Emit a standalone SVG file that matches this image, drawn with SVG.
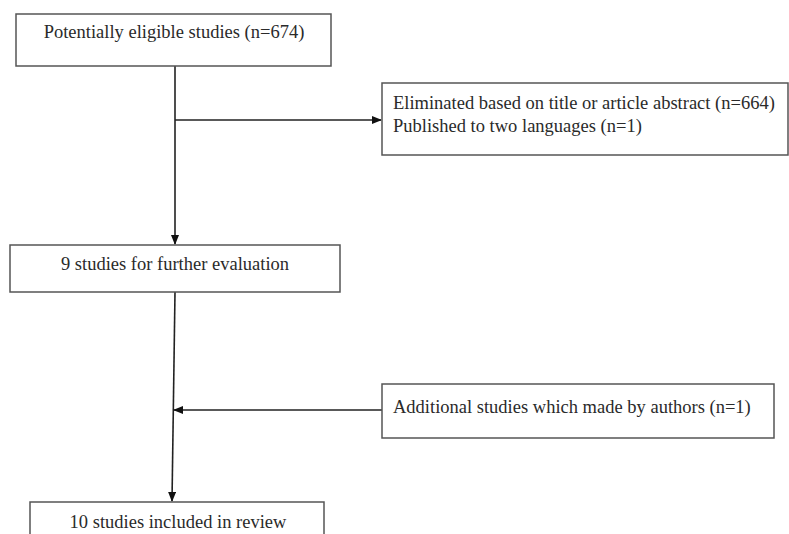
<svg xmlns="http://www.w3.org/2000/svg" width="789" height="534" viewBox="0 0 789 534">
<style>
.box{fill:#fff;stroke:#555;stroke-width:1.5}
.t{font-family:"Liberation Serif","Times New Roman",serif;font-size:18.5px;fill:#2a2a2a}
.c{text-anchor:middle}
.ln{stroke:#222;stroke-width:1.6;fill:none}
</style>
<defs>
<marker id="ah" markerWidth="10" markerHeight="8" refX="9" refY="4" orient="auto" markerUnits="userSpaceOnUse">
<path d="M0,0 L10,4 L0,8 z" fill="#111"/>
</marker>
</defs>
<rect width="789" height="534" fill="#fff"/>
<g id="connectors">
<line class="ln" x1="175" y1="66" x2="175" y2="244" marker-end="url(#ah)"/>
<line class="ln" x1="175" y1="120" x2="381" y2="120" marker-end="url(#ah)"/>
<line class="ln" x1="175" y1="292" x2="172" y2="501" marker-end="url(#ah)"/>
<line class="ln" x1="382" y1="410" x2="174" y2="410" marker-end="url(#ah)"/>
</g>
<g id="n1">
<rect class="box" x="16" y="14" width="315" height="52"/>
<text class="t c" x="174" y="38">Potentially eligible studies (n=674)</text>
</g>
<g id="n2">
<rect class="box" x="382" y="83" width="406" height="72"/>
<text class="t" x="393" y="109">Eliminated based on title or article abstract (n=664)</text>
<text class="t" x="393" y="132">Published to two languages (n=1)</text>
</g>
<g id="n3">
<rect class="box" x="10" y="245" width="330" height="47"/>
<text class="t c" x="175" y="270">9 studies for further evaluation</text>
</g>
<g id="n4">
<rect class="box" x="382" y="384" width="392" height="54"/>
<text class="t" x="393" y="413">Additional studies which made by authors (n=1)</text>
</g>
<g id="n5">
<rect class="box" x="30" y="502" width="294" height="40"/>
<text class="t c" x="178" y="528">10 studies included in review</text>
</g>
</svg>
